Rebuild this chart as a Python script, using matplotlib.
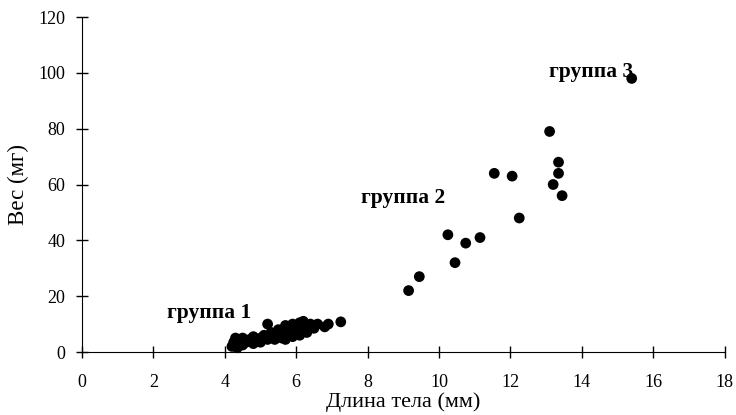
import matplotlib
matplotlib.use('Agg')
from matplotlib import pyplot as plt

# Body length (mm) and weight (mg)
length_g1 = [4.2, 4.25, 4.3, 4.35, 4.4, 4.5, 4.5, 4.6, 4.7, 4.8, 4.8, 4.9, 5.0, 5.0,
             5.1, 5.2, 5.2, 5.3, 5.3, 5.4, 5.5, 5.5, 5.6, 5.6, 5.7, 5.7, 5.8, 5.8,
             5.9, 5.9, 6.0, 6.0, 6.1, 6.1, 6.2, 6.2, 6.3, 6.3, 6.4, 6.5, 6.6, 6.8,
             6.9, 7.25]
weight_g1 = [2.0, 3.5, 5.0, 1.5, 4.0, 2.5, 5.0, 3.5, 4.5, 3.0, 5.5, 4.0, 5.0, 3.5,
             6.0, 4.5, 10.0, 5.5, 7.0, 4.5, 6.0, 8.0, 5.0, 7.0, 9.5, 4.5, 6.5, 8.5,
             10.0, 5.5, 7.0, 9.0, 6.0, 10.5, 8.0, 11.0, 7.0, 9.5, 10.0, 8.5, 10.0, 9.0,
             10.0, 10.8]
length_g23 = [9.15, 9.45, 10.25, 10.45, 10.75, 11.15, 11.55, 12.05, 12.25,
              13.1, 13.2, 13.35, 13.35, 13.45, 15.4]
weight_g23 = [22, 27, 42, 32, 39, 41, 64, 63, 48,
              79, 60, 68, 64, 56, 98]

x_ticks = [0, 2, 4, 6, 8, 10, 12, 14, 16, 18]
y_ticks = [0, 20, 40, 60, 80, 100, 120]

plt.rcParams['font.family'] = ['Liberation Serif', 'DejaVu Serif']

fig = plt.figure(figsize=(7.36, 4.15), dpi=100)
ax = fig.add_axes([0.1114, 0.1518, 0.8730, 0.8072])

ax.scatter(length_g1 + length_g23, weight_g1 + weight_g23, s=60, color='black',
           edgecolors='none', zorder=3, clip_on=False)

ax.set_xlim(0, 18)
ax.set_ylim(0, 120)
ax.set_xticks(x_ticks)
ax.set_yticks(y_ticks)
ax.spines[['top', 'right']].set_visible(False)
ax.tick_params(direction='inout', length=8, width=1, labelsize=13, color='black')
ax.tick_params(axis='x', pad=12)
ax.tick_params(axis='y', pad=8)

ax.set_xlabel('Длина тела (мм)', fontsize=16, labelpad=1)
ax.set_ylabel('Вес (мг)', fontsize=16.5, labelpad=7)

ax.text(2.39, 14, 'группа 1', fontsize=15.5, fontweight='bold', va='center')
ax.text(7.82, 55.2, 'группа 2', fontsize=15.5, fontweight='bold', va='center')
ax.text(13.08, 100.4, 'группа 3', fontsize=15.5, fontweight='bold', va='center')

fig.savefig('out.png', dpi=100)
